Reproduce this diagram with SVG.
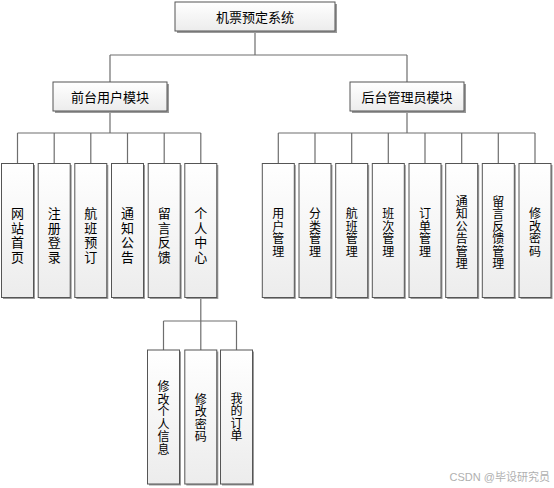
<svg xmlns="http://www.w3.org/2000/svg" width="554" height="488" viewBox="0 0 554 488">
<defs>
<linearGradient id="g" x1="0" y1="0" x2="0" y2="1">
<stop offset="0" stop-color="#ffffff"/>
<stop offset="1" stop-color="#ececec"/>
</linearGradient>
</defs>
<style>
.sh{fill:#9a9a9a;}
.bx{fill:url(#g);stroke:#555;stroke-width:1;}
.t{font-family:"Noto Sans CJK SC","Noto Sans CJK JP",sans-serif;font-size:13px;fill:#000;text-anchor:middle;}
.v{writing-mode:vertical-rl;letter-spacing:1.5px;}
.s{font-size:12px;letter-spacing:0.5px;}
.c{fill:none;stroke:#6e6e6e;stroke-width:1.2;}
.wm{font-family:"Liberation Sans","Noto Sans CJK SC",sans-serif;font-size:11px;fill:#b0b0b0;text-anchor:end;}
</style>
<rect width="554" height="488" fill="#fff"/>
<g id="connectors">
<path class="c" d="M255 31V55M110 55H407M110 55V82M407 55V82"/>
<path class="c" d="M110 111V133M17.5 133H200.8M17.5 133V163M54.2 133V163M90.8 133V163M127.5 133V163M164.2 133V163M200.8 133V163"/>
<path class="c" d="M407 111V133M278.3 133H535M278.3 133V163M315 133V163M351.7 133V163M388.3 133V163M425 133V163M461.7 133V163M498.3 133V163M535 133V163"/>
<path class="c" d="M200.8 297V321M163.5 321H236.5M163.5 321V350M200.8 321V350M236.5 321V350"/>
</g>
<g id="root"><rect class="sh" x="177" y="4" width="160" height="29"/><rect class="bx" x="175" y="2" width="160" height="29"/><text class="t" x="255" y="21.5">机票预定系统</text></g>
<g id="front"><rect class="sh" x="55" y="84" width="114" height="29"/><rect class="bx" x="53" y="82" width="114" height="29"/><text class="t" x="110" y="101.5">前台用户模块</text></g>
<g id="admin"><rect class="sh" x="352" y="84" width="114" height="29"/><rect class="bx" x="350" y="82" width="114" height="29"/><text class="t" x="407" y="101.5">后台管理员模块</text></g>

<g id="f1"><rect class="sh" x="3" y="165" width="32" height="134"/><rect class="bx" x="1.5" y="163.5" width="32" height="134"/><text class="t v" x="17.5" y="236">网站首页</text></g>
<g id="f2"><rect class="sh" x="39.7" y="165" width="32" height="134"/><rect class="bx" x="38.2" y="163.5" width="32" height="134"/><text class="t v" x="54.2" y="236">注册登录</text></g>
<g id="f3"><rect class="sh" x="76.3" y="165" width="32" height="134"/><rect class="bx" x="74.8" y="163.5" width="32" height="134"/><text class="t v" x="90.8" y="236">航班预订</text></g>
<g id="f4"><rect class="sh" x="113" y="165" width="32" height="134"/><rect class="bx" x="111.5" y="163.5" width="32" height="134"/><text class="t v" x="127.5" y="236">通知公告</text></g>
<g id="f5"><rect class="sh" x="149.7" y="165" width="32" height="134"/><rect class="bx" x="148.2" y="163.5" width="32" height="134"/><text class="t v" x="164.2" y="236">留言反馈</text></g>
<g id="f6"><rect class="sh" x="186.3" y="165" width="32" height="134"/><rect class="bx" x="184.8" y="163.5" width="32" height="134"/><text class="t v" x="200.8" y="236">个人中心</text></g>

<g id="a1"><rect class="sh" x="263.8" y="165" width="32" height="134"/><rect class="bx" x="262.3" y="163.5" width="32" height="134"/><text class="t v s" x="278.3" y="232.5">用户管理</text></g>
<g id="a2"><rect class="sh" x="300.5" y="165" width="32" height="134"/><rect class="bx" x="299" y="163.5" width="32" height="134"/><text class="t v s" x="315" y="232.5">分类管理</text></g>
<g id="a3"><rect class="sh" x="337.2" y="165" width="32" height="134"/><rect class="bx" x="335.7" y="163.5" width="32" height="134"/><text class="t v s" x="351.7" y="232.5">航班管理</text></g>
<g id="a4"><rect class="sh" x="373.8" y="165" width="32" height="134"/><rect class="bx" x="372.3" y="163.5" width="32" height="134"/><text class="t v s" x="388.3" y="232.5">班次管理</text></g>
<g id="a5"><rect class="sh" x="410.5" y="165" width="32" height="134"/><rect class="bx" x="409" y="163.5" width="32" height="134"/><text class="t v s" x="425" y="232.5">订单管理</text></g>
<g id="a6"><rect class="sh" x="447.2" y="165" width="32" height="134"/><rect class="bx" x="445.7" y="163.5" width="32" height="134"/><text class="t v s" x="461.7" y="232.5">通知公告管理</text></g>
<g id="a7"><rect class="sh" x="483.8" y="165" width="32" height="134"/><rect class="bx" x="482.3" y="163.5" width="32" height="134"/><text class="t v s" x="498.3" y="232.5">留言反馈管理</text></g>
<g id="a8"><rect class="sh" x="520.5" y="165" width="32" height="134"/><rect class="bx" x="519" y="163.5" width="32" height="134"/><text class="t v s" x="535" y="232.5">修改密码</text></g>

<g id="p1"><rect class="sh" x="149" y="351.5" width="32" height="134"/><rect class="bx" x="147.5" y="350" width="32" height="134"/><text class="t v s" x="163.5" y="418">修改个人信息</text></g>
<g id="p2"><rect class="sh" x="186.3" y="351.5" width="32" height="134"/><rect class="bx" x="184.8" y="350" width="32" height="134"/><text class="t v s" x="200.8" y="418">修改密码</text></g>
<g id="p3"><rect class="sh" x="222" y="351.5" width="32" height="134"/><rect class="bx" x="220.5" y="350" width="32" height="134"/><text class="t v s" x="236.5" y="417">我的订单</text></g>

<text class="wm" x="550" y="481">CSDN @毕设研究员</text>
</svg>
